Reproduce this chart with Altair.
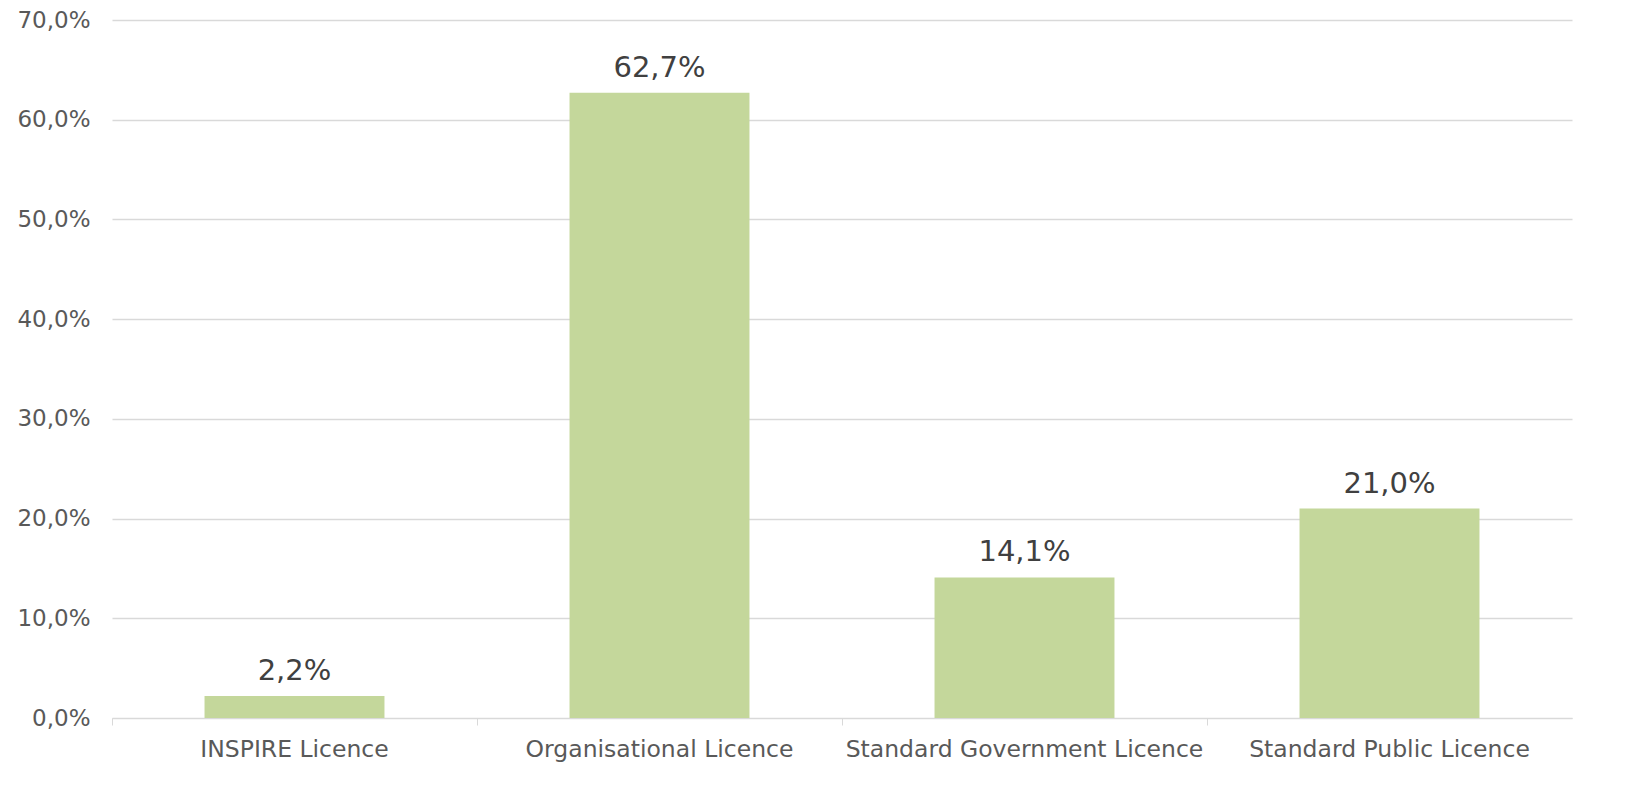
import altair as alt
import pandas as pd

categories = ["INSPIRE Licence", "Organisational Licence", "Standard Government Licence", "Standard Public Licence"]
values = [2.2, 62.7, 14.1, 21.0]
y_ticks = [0, 10, 20, 30, 40, 50, 60, 70]

df = pd.DataFrame({"cat": categories, "val": values})
df["label"] = [f"{v:.1f}".replace(".", ",") + "%" for v in values]

FONT = "DejaVu Sans"

x = alt.X("cat:N", sort=categories, title=None,
          scale=alt.Scale(paddingInner=0, paddingOuter=0),
          axis=alt.Axis(labelAngle=0, labelFont=FONT, labelFontSize=23.5, labelColor="#595959",
                        domainColor="#D9D9D9", tickColor="#D9D9D9", tickSize=7, tickWidth=1,
                        bandPosition=0, labelPadding=12, labelLimit=0, grid=False))
y = alt.Y("val:Q", title=None,
          scale=alt.Scale(domain=[0, 70], nice=False),
          axis=alt.Axis(values=y_ticks, labelExpr="replace(format(datum.value,'.1f'),'.',',')+'%'",
                        labelFont=FONT, labelFontSize=23, labelColor="#595959", labelPadding=22,
                        domain=False, ticks=False, gridColor="#D9D9D9", gridWidth=1.3))

bars = alt.Chart(df).mark_bar(color="#C4D79B", width=alt.RelativeBandSize(0.493)).encode(x=x, y=y)
text = alt.Chart(df).mark_text(font=FONT, fontSize=29, color="#404040", baseline="bottom", dy=-10).encode(
    x=alt.X("cat:N", sort=categories), y="val:Q", text="label:N")

chart = (bars + text).properties(
    width=1460, height=698,
    autosize=alt.AutoSizeParams(type="none"),
    padding={"left": 104, "top": 12, "right": 20, "bottom": 60},
    view=alt.ViewBackground(stroke=None),
).configure_view(strokeWidth=0, stroke=None).configure_axisX(grid=False).configure(background="white")

chart.save("out.html", embed_options={"renderer": "svg", "actions": False})
